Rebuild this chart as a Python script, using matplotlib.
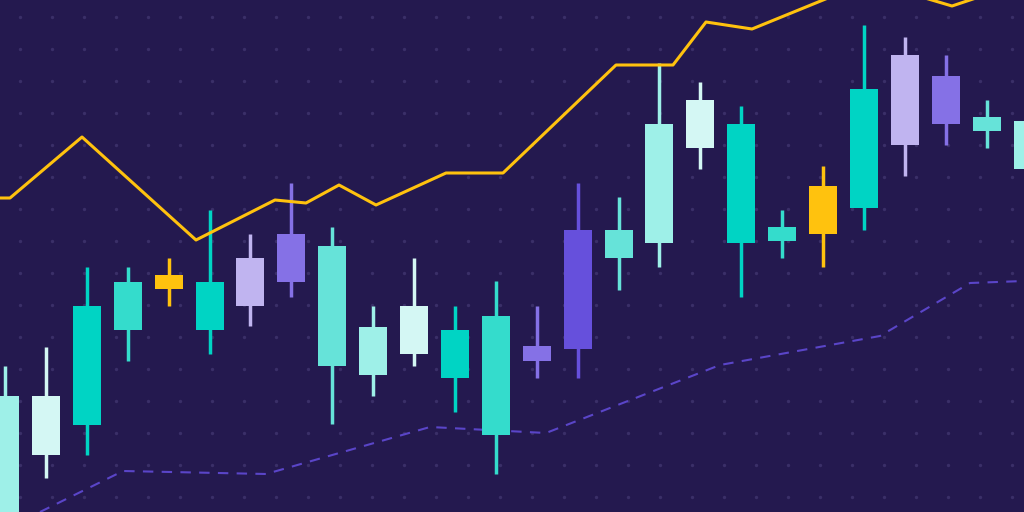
import matplotlib
matplotlib.use("Agg")
import matplotlib.pyplot as plt
import numpy as np

body_top = [396,396,306,282,275,282,258,234,246,327,306,330,316,346,230,230,124,100,124,227,186,89,55,76,117,121]
body_bot = [520,455,425,330,289,330,306,282,366,375,354,378,435,361,349,258,243,148,243,241,234,208,145,124,131,169]
wick_top = [366,347,267,267,258,210,234,183,227,306,258,306,281,306,183,197,63,82,106,210,166,25,37,55,100,100]
wick_bot = [520,478,455,361,306,354,326,297,424,396,366,412,474,378,378,290,267,169,297,258,267,230,176,145,148,190]
colors = ["#9ef0e8","#d4f7f4","#00d4c4","#34dccc","#ffc20e","#00d4c4","#c0b4f0","#8571e6",
          "#66e3d9","#9ef0e8","#d4f7f4","#00d4c4","#34dccc","#8571e6","#6650dc","#66e3d9",
          "#9ef0e8","#d4f7f4","#00d4c4","#34dccc","#ffc20e","#00d4c4","#c0b4f0","#8571e6",
          "#66e3d9","#9ef0e8"]
line_x = [0,10,82,196,275,306,339,376,446,503,616,673,706,752,828,925,952,1000]
line_y = [198,198,137,240,200,203,185,205,173,173,65,65,22,29,-2,-2,6,-10]
dash_x = [40,123,266,430,546,720,880,970,1024]
dash_y = [512,471,474,427,433,365,336,283,281]

fig = plt.figure(figsize=(10.24,5.12), dpi=100)
ax = fig.add_axes([0,0,1,1])
bg = "#24194f"
fig.patch.set_facecolor(bg); ax.set_facecolor(bg)
gx, gy = np.meshgrid(np.arange(20,1024,32), np.arange(17,512,32))
ax.scatter(gx.ravel(), gy.ravel(), s=2, color="#3a2f68", zorder=0)
ax.plot(dash_x, dash_y, color="#5a45c8", lw=1.5, ls=(0,(5,4)), zorder=1)
xs = 5 + 40.9*np.arange(len(body_top))
for x,bt,bb,wt,wb,c in zip(xs,body_top,body_bot,wick_top,wick_bot,colors):
    ax.plot([x,x],[wt,wb],color=c,lw=2.5,zorder=2,solid_capstyle="butt")
    ax.bar(x, bb-bt, bottom=bt, width=28, color=c, zorder=3)
ax.plot(line_x, line_y, color="#ffc20e", lw=2.2, zorder=4)
ax.set_xlim(0,1024); ax.set_ylim(512,0)
ax.axis("off")
fig.savefig("out.png", dpi=100, facecolor=bg)
